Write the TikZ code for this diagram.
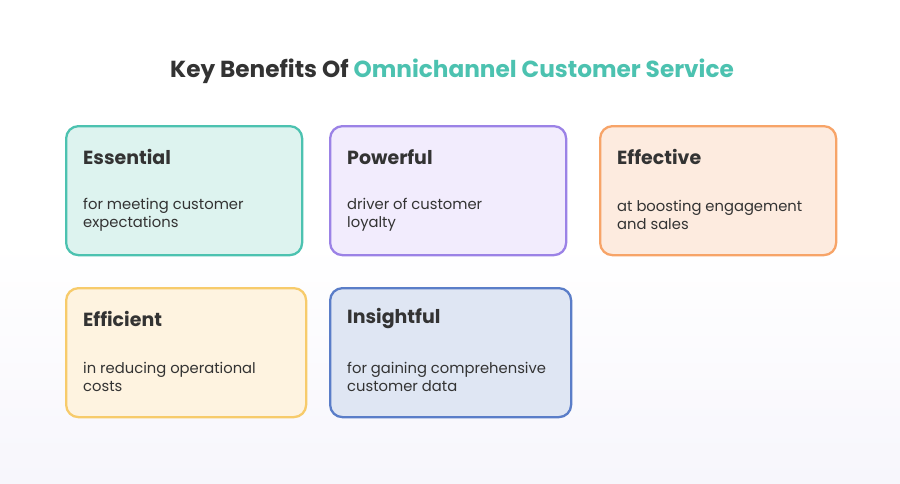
\documentclass[tikz,border=0pt]{standalone}
\usepackage{fontspec}
\setmainfont{Poppins}
\usetikzlibrary{positioning}
\definecolor{tealline}{HTML}{4CC2B0}
\definecolor{tealfill}{HTML}{DDF3EF}
\definecolor{purpline}{HTML}{9B82E6}
\definecolor{purpfill}{HTML}{F2ECFD}
\definecolor{orngline}{HTML}{F7A468}
\definecolor{orngfill}{HTML}{FDEBDF}
\definecolor{yellline}{HTML}{F7CB6B}
\definecolor{yellfill}{HTML}{FEF3E0}
\definecolor{blueline}{HTML}{5A7DC8}
\definecolor{bluefill}{HTML}{DFE6F3}
\definecolor{darktext}{HTML}{333333}
\definecolor{bgbottom}{HTML}{F7F6FC}
\begin{document}
\begin{tikzpicture}

% used styles
\tikzset{card/.style={rectangle, rounded corners=7pt, line width=1.3pt, minimum width=4.72cm, minimum height=2.58cm, anchor=north west},
  heading/.style={anchor=west, font=\bfseries\fontsize{10.8}{13}\selectfont, text=darktext},
  blurb/.style={anchor=west, align=left, font=\fontsize{8.4}{10.2}\selectfont, text=darktext}}

\shade[top color=white, bottom color=bgbottom, middle color=white] (0,0) rectangle (18,9.66);
\useasboundingbox (0,0) rectangle (18,9.66);

\node (title) at (9.04,8.24) {\bfseries\fontsize{13.2}{16}\selectfont\color{darktext}Key Benefits Of \color{tealline}Omnichannel Customer Service};

\node [card, draw=tealline, fill=tealfill] (essential) at (1.3,7.16) {};
\node [card, draw=purpline, fill=purpfill] (powerful) at (6.58,7.16) {};
\node [card, draw=orngline, fill=orngfill] (effective) at (11.98,7.16) {};
\node [card, draw=yellline, fill=yellfill, minimum width=4.8cm] (efficient) at (1.3,3.92) {};
\node [card, draw=blueline, fill=bluefill, minimum width=4.82cm] (insightful) at (6.58,3.92) {};

\node [heading] at ([xshift=0.24cm, yshift=-0.64cm]essential.north west) {Essential};
\node [blurb] at ([xshift=0.24cm, yshift=-1.79cm]essential.north west) {for meeting customer\\expectations};

\node [heading] at ([xshift=0.24cm, yshift=-0.64cm]powerful.north west) {Powerful};
\node [blurb] at ([xshift=0.24cm, yshift=-1.79cm]powerful.north west) {driver of customer\\loyalty};

\node [heading] at ([xshift=0.24cm, yshift=-0.64cm]effective.north west) {Effective};
\node [blurb] at ([xshift=0.24cm, yshift=-1.79cm]effective.north west) {at boosting engagement\\and sales};

\node [heading] at ([xshift=0.24cm, yshift=-0.64cm]efficient.north west) {Efficient};
\node [blurb] at ([xshift=0.24cm, yshift=-1.79cm]efficient.north west) {in reducing operational\\costs};

\node [heading] at ([xshift=0.24cm, yshift=-0.64cm]insightful.north west) {Insightful};
\node [blurb] at ([xshift=0.24cm, yshift=-1.79cm]insightful.north west) {for gaining comprehensive\\customer data};

\end{tikzpicture}
\end{document}
